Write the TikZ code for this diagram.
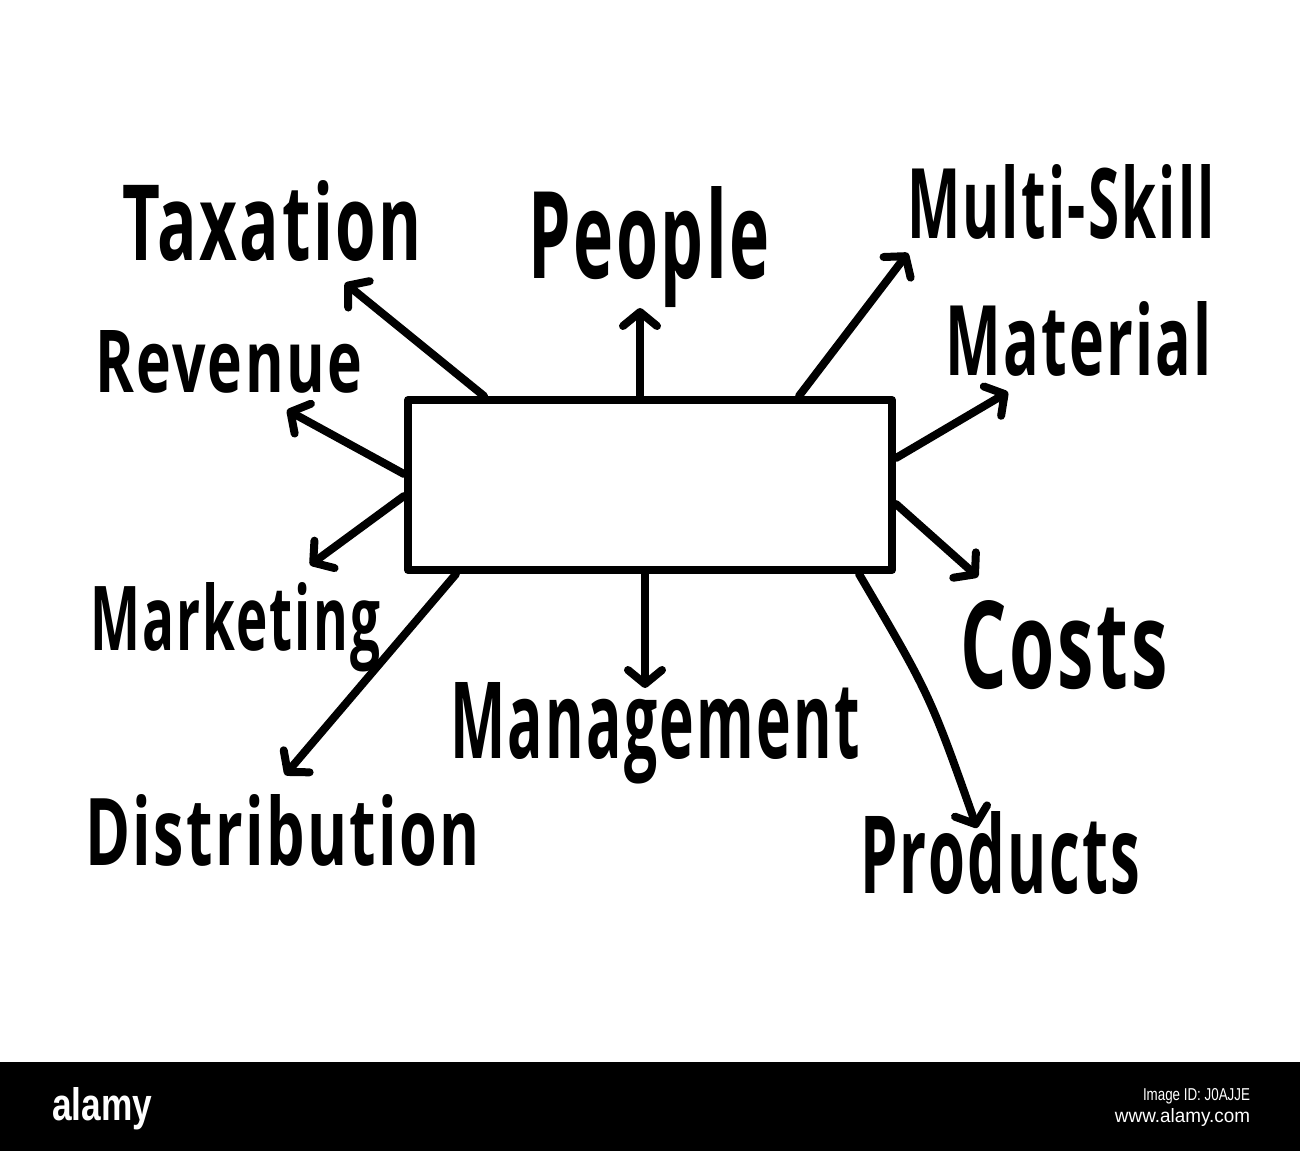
\documentclass[tikz,border=0pt]{standalone}
\usepackage{fontspec}
\setmainfont{Open Sans}[LetterSpace=4]
\newfontfamily\wmfont{Liberation Sans}
\usetikzlibrary{arrows.meta,calc}
\newcommand\fitlab[3]{\resizebox{#1pt}{#2pt}{\fontsize{60}{60}\selectfont\bfseries #3}}
\begin{document}
\begin{tikzpicture}[x=1pt,y=-1pt,
  ink/.style={line width=8pt, line cap=round, line join=round},
  arr/.style={ink, -{Straight Barb[length=14pt,width=34pt,round]}},
  lbl/.style={anchor=base west, inner sep=0pt, outer sep=0pt},
  wm/.style={inner sep=0pt, outer sep=0pt, text=white},
  hubbox/.style={draw, ink, minimum width=484pt, minimum height=170pt, inner sep=0pt}]
\useasboundingbox (0,0) rectangle (1300,1151);
\fill[white] (0,0) rectangle (1300,1151);

% labels
\node[lbl] (tax) at (122,260) {\fitlab{300}{80}{Taxation}};
\node[lbl] (peo) at (528,278) {\fitlab{242}{92}{People}};
\node[lbl] (mul) at (907,238) {\fitlab{308}{74}{Multi-Skill}};
\node[lbl] (rev) at (95,392) {\fitlab{267}{62}{Revenue}};
\node[lbl] (mat) at (945,375) {\fitlab{267}{74}{Material}};
\node[lbl] (mkt) at (90,650) {\fitlab{290}{68}{Marketing}};
\node[lbl] (cos) at (960,688) {\fitlab{208}{88}{Costs}};
\node[lbl] (man) at (450,758) {\fitlab{410}{76}{Management}};
\node[lbl] (dis) at (85,865) {\fitlab{395}{71}{Distribution}};
\node[lbl] (pro) at (860,893) {\fitlab{280}{82}{Products}};

% central box
\node[hubbox] (hub) at (650,485) {};

% arrow tips
\coordinate (tTax) at (345,283);
\coordinate (tPeo) at (640,308);
\coordinate (tMul) at (908,253);
\coordinate (tRev) at (287,410);
\coordinate (tMat) at (1008,392);
\coordinate (tMkt) at (310,565);
\coordinate (tCos) at (978,577);
\coordinate (tMan) at (645,688);
\coordinate (tDis) at (285,775);
\coordinate (tPro) at (977,828);

% arrows
\draw[arr] ($(hub.north west)+(80,0)$) -- (tTax);
\draw[arr] ($(hub.north)+(-10,0)$) -- (tPeo);
\draw[arr] ($(hub.north east)+(-97,0)$) -- (tMul);
\draw[arr] ($(hub.north west)+(0,78)$) -- (tRev);
\draw[arr] ($(hub.north east)+(0,62)$) -- (tMat);
\draw[arr] ($(hub.north west)+(0,100)$) -- (tMkt);
\draw[arr] ($(hub.north east)+(0,108)$) -- (tCos);
\draw[arr] ($(hub.south)+(-5,0)$) -- (tMan);
\draw[arr] ($(hub.south west)+(52,0)$) -- (tDis);
\draw[arr] ($(hub.south east)+(-37,0)$) .. controls (930,695) .. (tPro);

% watermark bar
\fill[black] (0,1062) rectangle (1300,1151);
\node[wm, anchor=base west] (alamy) at (52,1120) {\resizebox{100pt}{33pt}{\wmfont\bfseries alamy}};
\node[wm, anchor=base east] (imgid) at (1250,1100) {\resizebox{107pt}{12pt}{\wmfont Image ID: J0AJJE}};
\node[wm, anchor=base east] (www) at (1250,1122) {\resizebox{135pt}{14pt}{\wmfont www.alamy.com}};
\end{tikzpicture}
\end{document}
